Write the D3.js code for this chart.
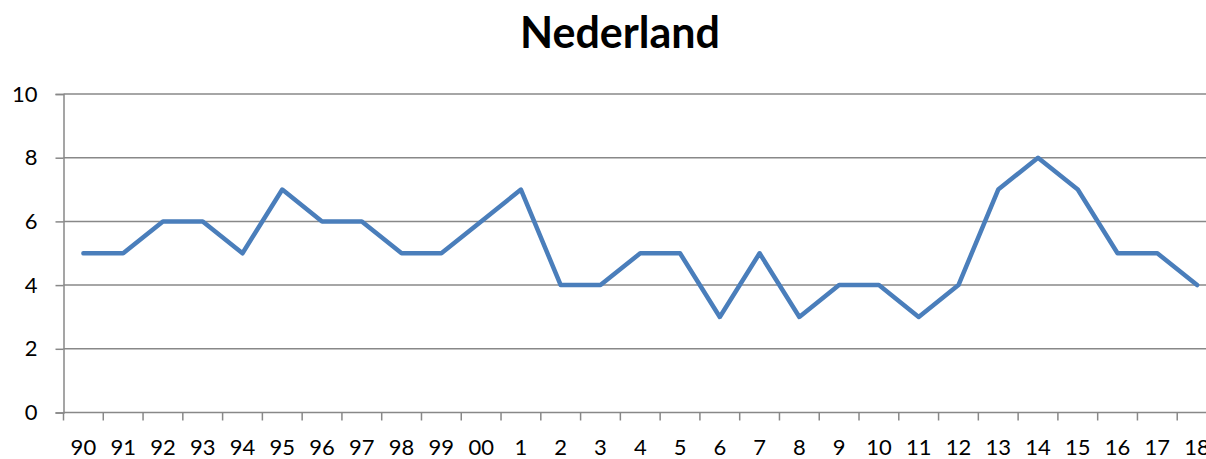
<!DOCTYPE html>
<html><head><meta charset="utf-8">
<script src="https://cdn.jsdelivr.net/npm/d3@7"></script>
<style>body{margin:0;background:#fff;overflow:hidden}svg{display:block}</style>
</head><body>
<svg id="c" width="1206" height="459"></svg>
<script>
const title = "Nederland";
const categories = ["90","91","92","93","94","95","96","97","98","99","00","1","2","3","4","5","6","7","8","9","10","11","12","13","14","15","16","17","18"];
const values = [5,5,6,6,5,7,6,6,5,5,6,7,4,4,5,5,3,5,3,4,4,3,4,7,8,7,5,5,4];
const yTicks = [0,2,4,6,8,10];

const svg = d3.select("#c");
const font = "Lato, 'Open Sans', sans-serif";
const pLeft = 63.5, pRight = 1217, pTop = 94, pBottom = 412.5;

const x = d3.scaleBand().domain(categories).range([pLeft, pRight]).paddingInner(0).paddingOuter(0);
const y = d3.scaleLinear().domain([0,10]).range([pBottom, pTop]);

// gridlines
svg.append("g").selectAll("line").data(yTicks.filter(d=>d>0)).join("line")
  .attr("x1", pLeft).attr("x2", pRight)
  .attr("y1", d=>y(d)).attr("y2", d=>y(d))
  .attr("stroke", "#888").attr("stroke-width", 1.5);

// y axis
const ya = svg.append("g").attr("transform", `translate(${pLeft},0)`)
  .call(d3.axisLeft(y).tickValues(yTicks).tickSize(8).tickPadding(18));
ya.select(".domain").attr("stroke","#888").attr("stroke-width",1.5);
ya.selectAll(".tick line").attr("stroke","#888").attr("stroke-width",1.5);
ya.selectAll("text").attr("font-family", font).attr("font-size", 22).attr("fill","#000");

// x axis
const xa = svg.append("g").attr("transform", `translate(0,${pBottom})`)
  .call(d3.axisBottom(x).tickSize(0).tickPadding(27));
xa.select(".domain").attr("stroke","#888").attr("stroke-width",1.5).attr("d", `M${pLeft},0H${pRight}`);
xa.selectAll(".tick line").remove();
xa.selectAll("text").attr("font-family", font).attr("font-size", 22).attr("fill","#000");
// category boundary ticks
const bounds = d3.range(categories.length + 1);
svg.append("g").selectAll("line").data(bounds).join("line")
  .attr("x1", i=> pLeft + i*x.bandwidth()).attr("x2", i=> pLeft + i*x.bandwidth())
  .attr("y1", pBottom).attr("y2", pBottom+8)
  .attr("stroke","#888").attr("stroke-width",1.5);

// line
const line = d3.line().x((d,i)=>x(categories[i]) + x.bandwidth()/2).y(d=>y(d));
svg.append("path").datum(values).attr("d", line)
  .attr("fill","none").attr("stroke","#4a7ebb").attr("stroke-width",4.5)
  .attr("stroke-linejoin","round").attr("stroke-linecap","round");

// title
svg.append("text").attr("x", 620).attr("y", 48).attr("text-anchor","middle")
  .attr("font-family", font).attr("font-weight","bold").attr("font-size", 43).attr("fill","#000")
  .text(title);
</script>
</body></html>
